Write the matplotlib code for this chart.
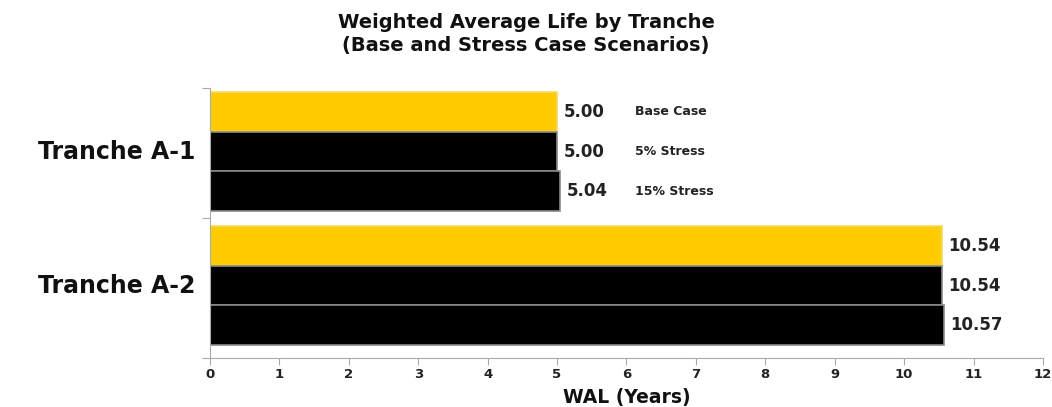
import matplotlib
matplotlib.use("Agg")
import matplotlib.pyplot as plt
from matplotlib.ticker import FixedLocator

tranches = ["Tranche A-1", "Tranche A-2"]
scenarios = ["Base Case", "5% Stress", "15% Stress"]
wal = {
    "Tranche A-1": [5.00, 5.00, 5.04],
    "Tranche A-2": [10.54, 10.54, 10.57],
}
x_ticks = list(range(0, 13))
title = "Weighted Average Life by Tranche\n(Base and Stress Case Scenarios)"
xlabel = "WAL (Years)"

colors = ["#FFCC00", "#000000", "#000000"]
edges = ["#f5d860", "#8a8a8a", "#8a8a8a"]

fig = plt.figure(figsize=(10.52, 4.07), dpi=100)
ax = fig.add_axes([0.1996, 0.1204, 0.7918, 0.6634])

group_start = [0.0, 3.375]
bar_h = 1.0
for gi, tr in enumerate(tranches):
    vals = wal[tr]
    for si, v in enumerate(vals):
        y = group_start[gi] + si
        ax.barh(y, v, height=bar_h, color=colors[si], edgecolor=edges[si], linewidth=1.2)
        ax.annotate(f"{v:.2f}", xy=(v, y), xytext=(5, 0), textcoords="offset points",
                    va="center", ha="left", fontsize=12, fontweight="bold", color="#222222")
        if gi == 0:
            ax.annotate(scenarios[si], xy=(max(vals), y), xytext=(54, 0), textcoords="offset points",
                        va="center", ha="left", fontsize=9, fontweight="bold", color="#222222")

ax.set_ylim(6.2, -0.6)
ax.set_xlim(0, 12)
ax.set_xticks(x_ticks)
ax.set_xticklabels([str(t) for t in x_ticks], fontsize=9.5, fontweight="bold", color="#222222")
ax.tick_params(axis="x", length=5, color="#aaaaaa", pad=2)

ax.yaxis.set_major_locator(FixedLocator([-0.6, 2.67, 6.2]))
ax.set_yticklabels([])
ax.tick_params(axis="y", length=6, color="#aaaaaa", which="major")
for gi, tr in enumerate(tranches):
    ax.text(-0.018, group_start[gi] + 1, tr, transform=ax.get_yaxis_transform(),
            ha="right", va="center", fontsize=17, fontweight="bold", color="#111111")

for s in ["top", "right"]:
    ax.spines[s].set_visible(False)
ax.spines["left"].set_color("#aaaaaa")
ax.spines["bottom"].set_color("#aaaaaa")

ax.set_xlabel(xlabel, fontsize=13.5, fontweight="bold", color="#111111", labelpad=5)
fig.text(0.5, 0.917, title, ha="center", va="center", fontsize=14, fontweight="bold",
         color="#111111", linespacing=1.25)

fig.savefig("out.png", dpi=100)
